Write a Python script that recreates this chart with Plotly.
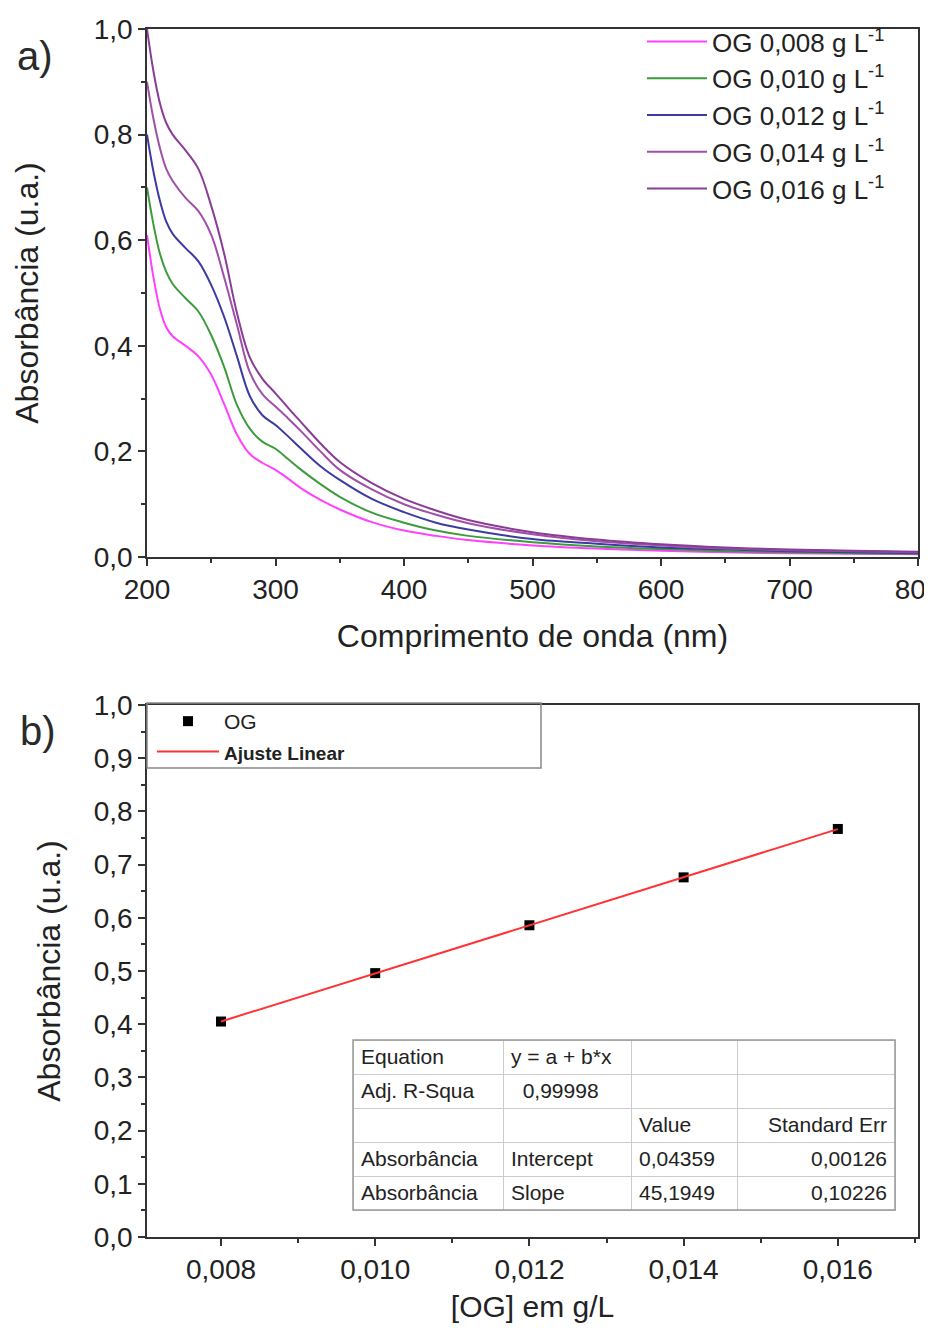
import plotly.graph_objects as go

# ---------------- data ----------------
wavelength = [200, 205, 210, 215, 220, 230, 240, 250, 260, 270, 280, 290, 300, 310, 320,
              335, 350, 375, 400, 425, 450, 500, 550, 600, 650, 700, 750, 800]
abs_0008 = [0.61, 0.53, 0.47, 0.435, 0.418, 0.40, 0.38, 0.345, 0.29, 0.232, 0.195, 0.178, 0.165, 0.148, 0.13,
            0.108, 0.09, 0.066, 0.05, 0.04, 0.032, 0.022, 0.016, 0.012, 0.009, 0.007, 0.006, 0.005]
abs_0010 = [0.70, 0.63, 0.575, 0.54, 0.517, 0.49, 0.465, 0.42, 0.36, 0.288, 0.243, 0.218, 0.205, 0.185, 0.165,
            0.138, 0.114, 0.084, 0.065, 0.05, 0.04, 0.028, 0.02, 0.015, 0.011, 0.009, 0.007, 0.006]
abs_0012 = [0.80, 0.73, 0.675, 0.635, 0.612, 0.585, 0.56, 0.515, 0.455, 0.38, 0.305, 0.268, 0.25, 0.228, 0.205,
            0.172, 0.146, 0.11, 0.085, 0.065, 0.052, 0.034, 0.025, 0.018, 0.014, 0.011, 0.009, 0.007]
abs_0014 = [0.90, 0.83, 0.775, 0.735, 0.712, 0.68, 0.655, 0.61, 0.53, 0.44, 0.35, 0.308, 0.285, 0.262, 0.238,
            0.20, 0.165, 0.128, 0.10, 0.08, 0.064, 0.043, 0.03, 0.022, 0.016, 0.013, 0.011, 0.009]
abs_0016 = [1.00, 0.92, 0.86, 0.822, 0.80, 0.77, 0.735, 0.665, 0.575, 0.462, 0.378, 0.337, 0.31, 0.282, 0.255,
            0.215, 0.18, 0.14, 0.11, 0.088, 0.07, 0.047, 0.033, 0.024, 0.018, 0.014, 0.012, 0.01]
series_names = ["OG 0,008 g L<sup>-1</sup>", "OG 0,010 g L<sup>-1</sup>", "OG 0,012 g L<sup>-1</sup>",
                "OG 0,014 g L<sup>-1</sup>", "OG 0,016 g L<sup>-1</sup>"]
series_colors = ["#FF40FF", "#3C9C3C", "#3C3CA0", "#A050A8", "#8A3C96"]

conc = [0.008, 0.010, 0.012, 0.014, 0.016]
absorb = [0.405, 0.496, 0.586, 0.676, 0.767]
fit_intercept = 0.04359
fit_slope = 45.1949

NB = "\u00a0"
table_header = ["Equation", NB.join(["y", "=", "a", "+", "b*x"]), "", ""]
table_col1 = ["Adj. R-Squa", "", "Absorbância", "Absorbância"]
table_col2 = [NB * 2 + "0,99998", "", "Intercept", "Slope"]
table_col3 = ["", "Value", "0,04359", "45,1949"]
table_col4 = ["", "Standard Err", "0,00126", "0,10226"]

# ---------------- layout helpers ----------------
# the page body adds an 8px offset; the figure is sized so its right/bottom edges meet the window
OFF = 8
WIN_W, WIN_H = 932, 1331
W, H = WIN_W - OFF, WIN_H - OFF
L, R, T, B = 147, 918, 29, 1237   # plot-area edges in window pixels


def px(x):
    return (x - L) / (R - L)


def py(y):
    return (B - y) / (B - T)


FONT = "Liberation Sans, Arial, sans-serif"
TXT = "#222222"
AX = "#333333"

fig = go.Figure()

for y, name, col in zip([abs_0008, abs_0010, abs_0012, abs_0014, abs_0016], series_names, series_colors):
    fig.add_trace(go.Scatter(x=wavelength, y=y, mode="lines", name=name,
                             line=dict(color=col, width=2, shape="spline", smoothing=1.0),
                             xaxis="x", yaxis="y", legend="legend"))

fig.add_trace(go.Scatter(x=conc, y=absorb, mode="markers", name="OG",
                         marker=dict(symbol="square", size=10, color="black"),
                         xaxis="x2", yaxis="y2", legend="legend2"))
fit_x = [conc[0], conc[-1]]
fit_y = [fit_intercept + fit_slope * v for v in fit_x]
fig.add_trace(go.Scatter(x=fit_x, y=fit_y, mode="lines",
                         name="<span style='font-size:19px'><b>Ajuste Linear</b></span>",
                         line=dict(color="#FF3333", width=2),
                         xaxis="x2", yaxis="y2", legend="legend2"))

fig.add_trace(go.Table(
    domain=dict(x=[px(353), px(895)], y=[py(1214), py(1040)]),
    columnwidth=[150, 128, 106, 158],
    header=dict(values=table_header, height=34, align=["left", "left", "left", "right"],
                fill_color="white", line_color="#CCCCCC",
                font=dict(family=FONT, size=21, color=TXT)),
    cells=dict(values=[table_col1, table_col2, table_col3, table_col4], height=34,
               align=["left", "left", "left", "right"],
               fill_color="white", line_color="#CCCCCC",
               font=dict(family=FONT, size=21, color=TXT)),
))

axis_common = dict(showline=True, linecolor=AX, linewidth=1.5, mirror=True,
                   ticks="outside", ticklen=7, tickcolor=AX, tickwidth=1.5,
                   showgrid=False, zeroline=False, ticklabeloverflow="allow",
                   automargin=False,
                   tickfont=dict(family=FONT, size=28, color=TXT))

fig.update_layout(
    width=W, height=H,
    margin=dict(l=L - OFF, r=WIN_W - R, t=T - OFF, b=WIN_H - B, autoexpand=False),
    paper_bgcolor="white", plot_bgcolor="white",
    separators=",.",
    showlegend=True,
    xaxis=dict(**axis_common, domain=[0, 1], range=[200, 800], dtick=100, anchor="y",
               minor=dict(dtick=50, ticks="outside", ticklen=4, tickcolor=AX),
               title=dict(text="Comprimento de onda (nm)", standoff=20,
                          font=dict(family=FONT, size=32, color=TXT))),
    yaxis=dict(**axis_common, domain=[py(557), 1], range=[0, 1.0], dtick=0.2, tickformat=".1f",
               anchor="x",
               minor=dict(dtick=0.1, ticks="outside", ticklen=4, tickcolor=AX),
               title=dict(text="Absorbância (u.a.)", standoff=46,
                          font=dict(family=FONT, size=32, color=TXT))),
    xaxis2=dict(**axis_common, domain=[0, 1], range=[0.00704, 0.01704], tick0=0.008, dtick=0.002,
                tickformat=".3f", anchor="y2",
                minor=dict(tick0=0.008, dtick=0.001, ticks="outside", ticklen=4, tickcolor=AX),
                title=dict(text="[OG] em g/L", standoff=12,
                           font=dict(family=FONT, size=30, color=TXT))),
    yaxis2=dict(**axis_common, domain=[0, py(705)], range=[0, 1.0], dtick=0.1, tickformat=".1f",
                anchor="x2",
                minor=dict(dtick=0.05, ticks="outside", ticklen=4, tickcolor=AX),
                title=dict(text="Absorbância (u.a.)", standoff=24,
                           font=dict(family=FONT, size=32, color=TXT))),
    legend=dict(x=px(642), y=py(18), xanchor="left", yanchor="top",
                bgcolor="rgba(0,0,0,0)", borderwidth=0,
                font=dict(family=FONT, size=26, color=TXT), itemwidth=60),
    legend2=dict(x=px(152), y=py(701), xanchor="left", yanchor="top",
                 bgcolor="rgba(0,0,0,0)", borderwidth=0, tracegroupgap=0,
                 font=dict(family=FONT, size=21, color=TXT), itemwidth=62),
    shapes=[
        dict(type="rect", xref="paper", yref="paper", x0=px(147), x1=px(541), y0=py(768), y1=py(703),
             line=dict(color="#888888", width=1.5), fillcolor="rgba(0,0,0,0)"),
        dict(type="rect", xref="paper", yref="paper", x0=px(353), x1=px(895), y0=py(1210), y1=py(1040),
             line=dict(color="#999999", width=1.5), fillcolor="rgba(0,0,0,0)"),
    ],
    annotations=[
        dict(text="a)", x=px(35), y=py(56), xref="paper", yref="paper", showarrow=False,
             xanchor="center", yanchor="middle",
             font=dict(family=FONT, size=40, color="#2A2A2A")),
        dict(text="b)", x=px(38), y=py(731), xref="paper", yref="paper", showarrow=False,
             xanchor="center", yanchor="middle",
             font=dict(family=FONT, size=40, color="#2A2A2A")),
    ],
)

fig.write_html("out.html")
